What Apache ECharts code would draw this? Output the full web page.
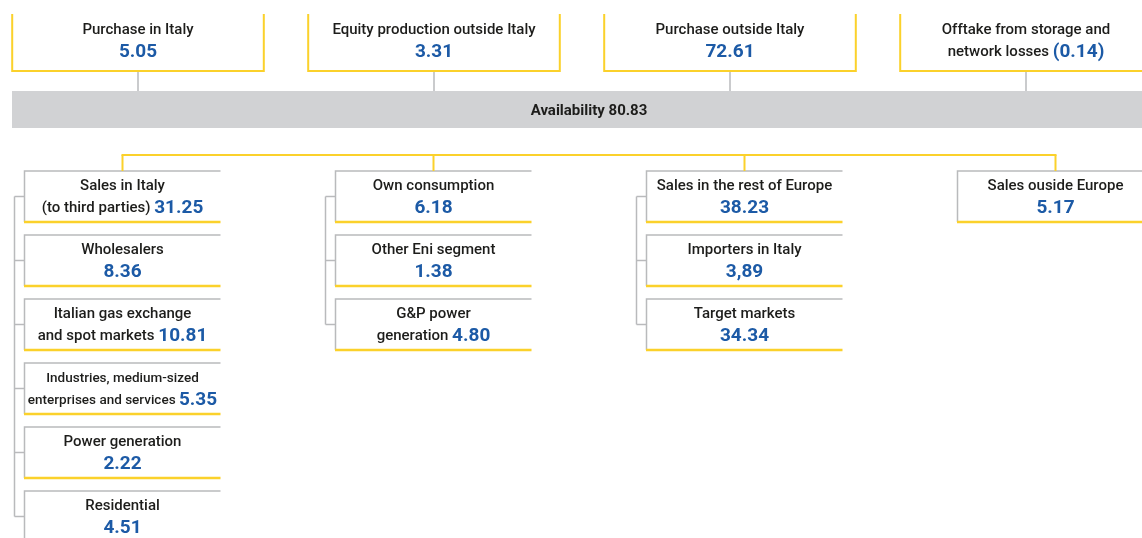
<!DOCTYPE html>
<html><head><meta charset="utf-8">
<script src="https://cdn.jsdelivr.net/npm/echarts@6/dist/echarts.min.js"></script>
<style>html,body{margin:0;padding:0;background:#fff}#c{width:1142px;height:538px}</style>
</head><body><div id="c"></div>
<script>
// ---- data ----
const sourceNames = ['Purchase in Italy', 'Equity production outside Italy', 'Purchase outside Italy', 'Offtake from storage and\nnetwork losses'];
const sourceValues = [5.05, 3.31, 72.61, -0.14];
const availabilityLabel = 'Availability';
const availabilityValue = 80.83;
const useGroups = ['Sales in Italy', 'Own consumption', 'Sales in the rest of Europe', 'Sales ouside Europe'];
const useNames = [
  ['Sales in Italy\n(to third parties)', 'Wholesalers', 'Italian gas exchange\nand spot markets', 'Industries, medium-sized\nenterprises and services', 'Power generation', 'Residential'],
  ['Own consumption', 'Other Eni segment', 'G&P power\ngeneration'],
  ['Sales in the rest of Europe', 'Importers in Italy', 'Target markets'],
  ['Sales ouside Europe']
];
const useValues = [
  [31.25, 8.36, 10.81, 5.35, 2.22, 4.51],
  [6.18, 1.38, 4.80],
  [38.23, 3.89, 34.34],
  [5.17]
];
const rowSlots = ['r1', 'r2', 'r3', 'r4', 'r5', 'r6'];
const commaDecimalItems = ['Importers in Italy'];

// ---- styles ----
const YELLOW = '#fbd12b', GREY = '#b9babc', BAR = '#d1d2d4', BLUE = '#1c5aa6', INK = '#1d1d1b';
const FONT = 'Roboto';
const LABEL_SIZE = 15, VALUE_SIZE = 19;
const ctx = document.createElement('canvas').getContext('2d');
function textW(s, size, weight) { ctx.font = weight + ' ' + size + 'px ' + FONT; return ctx.measureText(s).width; }
function makeRich(ls) {
  return {
    l: { fontFamily: FONT, fontSize: ls, fontWeight: 500, fill: INK, lineHeight: 22 },
    v: { fontFamily: FONT, fontSize: VALUE_SIZE, fontWeight: 'bold', fill: BLUE, lineHeight: 22 }
  };
}
function fmt(name, v) {
  let s = Math.abs(v).toFixed(2);
  if (commaDecimalItems.includes(name)) s = s.replace('.', ',');
  return v < 0 ? '(' + s + ')' : s;
}
// returns {text, rich} fitting maxW
function richLabel(name, v, maxW) {
  const lines = name.split('\n');
  const val = fmt(name, v);
  let ls = LABEL_SIZE;
  const last = lines[lines.length - 1] + ' ';
  while (ls > 12 && lines.length > 1 && textW(last, ls, 500) + textW(val, VALUE_SIZE, 'bold') > maxW) ls -= 0.5;
  let text;
  if (lines.length === 1) text = '{l|' + lines[0] + '}\n{v|' + val + '}';
  else text = lines.slice(0, -1).map(t => '{l|' + t + '}').join('\n') + '\n{l|' + last + '}{v|' + val + '}';
  return { text, rich: makeRich(ls) };
}

const sourceData = sourceNames.map((n, i) => [i, 0, sourceValues[i]]);
const useData = [];
useNames.forEach((rows, g) => rows.forEach((n, r) => useData.push([g, r, useValues[g][r], rows.length])));

const chart = echarts.init(document.getElementById('c'));
chart.setOption({
  animation: false,
  grid: [
    { left: -10, width: 1184, top: 14, height: 57, outerBoundsMode: 'none' },
    { left: 12, right: -24, top: 91, height: 37, outerBoundsMode: 'none' },
    { left: -33, width: 1244, top: 171, height: 384, outerBoundsMode: 'none' }
  ],
  xAxis: [
    { gridIndex: 0, type: 'category', data: sourceNames, show: false },
    { gridIndex: 1, type: 'value', min: 0, max: availabilityValue, show: false },
    { gridIndex: 2, type: 'category', data: useGroups, show: false }
  ],
  yAxis: [
    { gridIndex: 0, type: 'category', data: ['sources'], show: false },
    { gridIndex: 1, type: 'category', data: [availabilityLabel], show: false },
    { gridIndex: 2, type: 'category', data: rowSlots, inverse: true, show: false }
  ],
  series: [
    {
      type: 'custom', xAxisIndex: 0, yAxisIndex: 0, silent: true, clip: false,
      data: sourceData,
      renderItem(params, api) {
        const i = api.value(0);
        const c = api.coord([i, 0]);
        const bw = api.size([1, 0])[0], bh = api.size([0, 1])[1];
        const w = bw * 0.85, l = c[0] - w / 2, r = c[0] + w / 2, t = c[1] - bh / 2, b = c[1] + bh / 2;
        const lab = richLabel(sourceNames[i], api.value(2), w - 10);
        return { type: 'group', children: [
          { type: 'polyline', shape: { points: [[l, t], [l, b], [r, b], [r, t]] }, style: { stroke: YELLOW, lineWidth: 2, fill: null } },
          { type: 'line', shape: { x1: c[0], y1: b + 1, x2: c[0], y2: b + 20 }, style: { stroke: GREY, lineWidth: 1.5 } },
          { type: 'text', style: { text: lab.text, x: c[0], y: t + 27, align: 'center', verticalAlign: 'middle', rich: lab.rich } }
        ] };
      }
    },
    {
      type: 'bar', xAxisIndex: 1, yAxisIndex: 1, silent: true, barWidth: '100%',
      data: [availabilityValue],
      itemStyle: { color: BAR },
      label: { show: true, position: 'inside', offset: [0, 2], formatter: availabilityLabel + ' {c}', color: INK, fontFamily: FONT, fontSize: 15, fontWeight: 'bold' }
    },
    {
      type: 'custom', xAxisIndex: 2, yAxisIndex: 2, silent: true, clip: false,
      data: useData,
      renderItem(params, api) {
        const g = api.value(0), row = api.value(1), n = api.value(3);
        const c = api.coord([g, row]);
        const bh = api.size([0, 1])[1];
        const w = 196, h = 51;
        const l = c[0] - w / 2, r = l + w, t = c[1] - bh / 2, b = t + h, mid = t + h / 2;
        const lab = richLabel(useNames[g][row], api.value(2), w - 6);
        const ch = [
          { type: 'polyline', shape: { points: [[l, b], [l, t], [r, t]] }, style: { stroke: GREY, lineWidth: 1.5, fill: null } },
          { type: 'line', shape: { x1: l - 0.5, y1: b, x2: r, y2: b }, style: { stroke: YELLOW, lineWidth: 2.5 } },
          { type: 'text', style: { text: lab.text, x: c[0], y: t + 26.5, align: 'center', verticalAlign: 'middle', rich: lab.rich } }
        ];
        if (n > 1) {
          ch.push({ type: 'line', shape: { x1: l - 10, y1: mid, x2: l, y2: mid }, style: { stroke: GREY, lineWidth: 1.5 } });
          if (row === 0) ch.push({ type: 'line', shape: { x1: l - 10, y1: mid, x2: l - 10, y2: mid + (n - 1) * bh }, style: { stroke: GREY, lineWidth: 1.5 } });
        }
        if (row === 0) {
          ch.push({ type: 'line', shape: { x1: c[0], y1: t - 16, x2: c[0], y2: t }, style: { stroke: YELLOW, lineWidth: 2 } });
          if (g === 0) {
            const last = api.coord([useGroups.length - 1, 0]);
            ch.push({ type: 'line', shape: { x1: c[0] - 1, y1: t - 16, x2: last[0] + 1, y2: t - 16 }, style: { stroke: YELLOW, lineWidth: 2 } });
          }
        }
        return { type: 'group', children: ch };
      }
    }
  ]
});
</script></body></html>
